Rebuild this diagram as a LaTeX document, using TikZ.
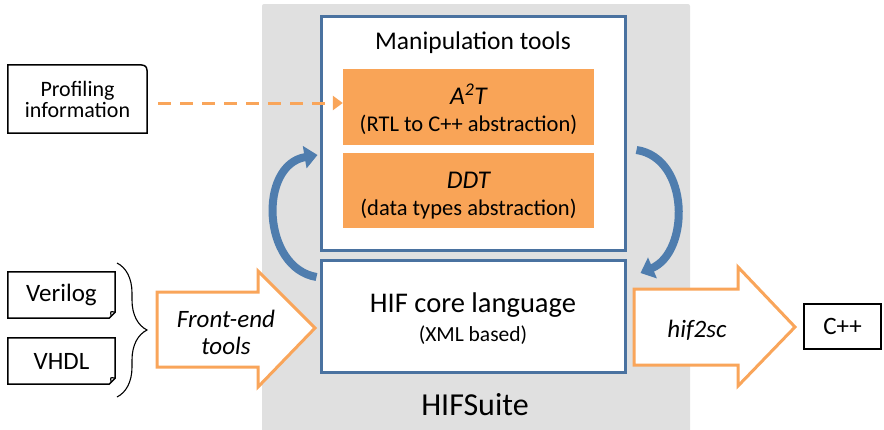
\documentclass[tikz,border=0pt]{standalone}
\usepackage{fontspec}
\setmainfont{Carlito}
\usetikzlibrary{arrows.meta,decorations.pathreplacing,calc}
\definecolor{bgray}{HTML}{E0E0E0}
\definecolor{hblue}{HTML}{4A72A0}
\definecolor{horange}{HTML}{F9A457}
\definecolor{aorange}{HTML}{F9A55A}
\definecolor{cblue}{HTML}{4F7DAE}
\newcommand{\fsz}[1]{\fontsize{#1}{#1}\selectfont}
\begin{document}
\begin{tikzpicture}[x=1pt,y=-1pt,
  bluebox/.style={draw=hblue, line width=3pt, fill=white, inner sep=0pt},
  orangebox/.style={fill=horange, draw=none, inner sep=0pt},
  plainbox/.style={inner sep=0pt, align=center},
  blockarrow/.style={draw=aorange, line width=3pt, fill=white, line join=miter},
  curvearrow/.style={draw=cblue, line width=8pt, -{Triangle[width=22pt,length=13pt]}},
  txt/.style={inner sep=0pt, align=center},
  doc/.style={line width=1.5pt, fill=white}]
\useasboundingbox (0,0) rectangle (884,429);
% background
\fill[bgray, rounded corners=2pt] (262,4) rectangle (690,440);
% manipulation box
\node[bluebox, minimum width=304pt, minimum height=234pt] (manip) at (473,133) {};
\node[txt, font=\fsz{25.5}] (mtxt) at (473,43) {Manipulation tools};
\node[orangebox, minimum width=251pt, minimum height=76pt] (a2t) at (468.5,107) {};
\node[txt, font=\fsz{25.5}\itshape] (a2tt) at (468.5,94) {A\textsuperscript{2}T};
\node[txt, font=\fsz{22.5}] (a2ts) at (468.5,125) {(RTL to C++ abstraction)};
\node[orangebox, minimum width=251pt, minimum height=75pt] (ddt) at (468.5,190.5) {};
\node[txt, font=\fsz{25.5}\itshape] (ddtt) at (468.5,180) {DDT};
\node[txt, font=\fsz{22.5}] (ddts) at (468.5,209) {(data types abstraction)};
% HIF box
\node[bluebox, minimum width=304pt, minimum height=112pt] (hif) at (473,316) {};
\node[txt, font=\fsz{28.5}] (hift) at (473,305) {HIF core language};
\node[txt, font=\fsz{21.5}] (hifs) at (473,335) {(XML based)};
\node[txt, font=\fsz{32}] (suite) at (475,405) {HIFSuite};
% curved arrows
\draw[curvearrow] ($(hif.west)+(-3,-39)$) .. controls (262,268) and (258,165) .. ($(manip.west)+(-2,22)$);
\draw[curvearrow] ($(manip.east)+(10,17)$) .. controls (690,158) and (690,252) .. ($(hif.east)+(14,-43)$);
% profiling
\node[plainbox, minimum width=139pt, minimum height=68pt] (prof) at (77.5,99) {};
\draw[doc] (prof.south west) -- (prof.north west) -- ($(prof.north east)+(-13,0)$)
  .. controls (prof.north east) .. ($(prof.north east)+(0,13)$) -- (prof.south east) -- cycle;
\node[txt, font=\fsz{22}] (proft) at (prof.center) {Profiling\\[-1pt]information};
\draw[aorange, line width=3pt, dash pattern=on 13pt off 9pt, -{Triangle[width=14pt,length=10pt]}]
  ($(prof.east)+(11,4)$) -- ($(a2t.west)+(0,-4)$);
% verilog / vhdl
\node[plainbox, minimum width=107pt, minimum height=46pt] (ver) at (61.5,295) {};
\node[plainbox, minimum width=107pt, minimum height=46pt] (vhdl) at (61.5,361) {};
\foreach \n in {ver,vhdl}{
  \draw[doc] (\n.south west) -- (\n.north west) -- (\n.north east) -- ($(\n.south east)+(0,-6)$)
    -- ($(\n.south east)+(-6,0)$) -- cycle;
  \draw[line width=1.2pt] ($(\n.south east)+(0,-6)$) .. controls ($(\n.south east)+(-5,-7)$) .. ($(\n.south east)+(-4,-2)$);
}
\node[txt, font=\fsz{25}] (vert) at (ver.center) {Verilog};
\node[txt, font=\fsz{25}] (vhdlt) at (vhdl.center) {VHDL};
\draw[decorate, decoration={brace, amplitude=30pt}, line width=1.1pt] (117,263) -- (117,397);
% front-end arrow
\draw[blockarrow] (157,292) -- (258,292) -- (258,271) -- (315,328) -- (258,387) -- (258,367) -- (157,367) -- cycle;
\node[txt, font=\fsz{25}\itshape] (fe) at (226,332) {Front-end\\[2pt]tools};
% hif2sc arrow
\draw[blockarrow] (634,289) -- (738,289) -- (738,267) -- (795,327) -- (738,386) -- (738,365) -- (634,365) -- cycle;
\node[txt, font=\fsz{25}\itshape] (h2s) at (697,330) {hif2sc};
% C++
\node[plainbox, draw, line width=1.5pt, minimum width=77pt, minimum height=45pt, font=\fsz{25}] (cpp) at (842.5,326.5) {C++};
\end{tikzpicture}
\end{document}
